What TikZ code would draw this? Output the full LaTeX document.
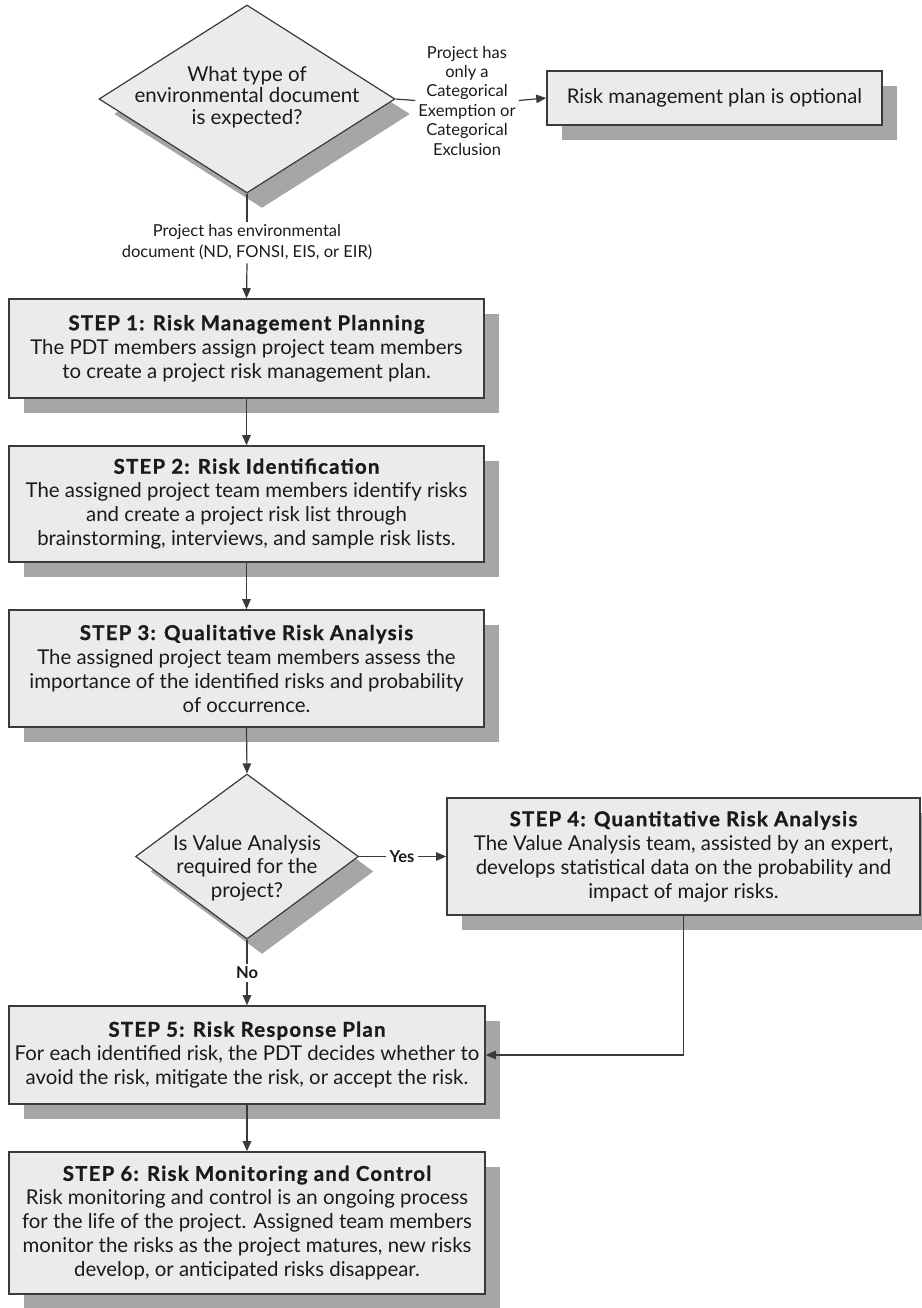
\documentclass[tikz,border=0pt]{standalone}
\usepackage{fontspec}
\setmainfont{Lato}
\usetikzlibrary{shapes.geometric,shadows,arrows.meta}
\definecolor{boxfill}{HTML}{EBEBEB}
\definecolor{shadowgray}{HTML}{A6A6A6}
\definecolor{edge}{HTML}{3A3A3A}
\definecolor{ink}{HTML}{1A1A1A}
% bold step headings, heavier and tracked out a little
\newcommand{\stephead}[1]{{\bfseries\addfontfeature{LetterSpace=6,FakeBold=1}#1}}
\begin{document}
\begin{tikzpicture}[x=1pt,y=-1pt,
  castshadow/.style={general shadow={fill=shadowgray,shadow xshift=15pt,shadow yshift=-15pt}},
  stepbox/.style={draw=edge,line width=1.6pt,fill=boxfill,castshadow,align=center,
    inner sep=0pt,text=ink,font=\fontsize{20.4}{24}\selectfont},
  decision/.style={diamond,draw=edge,line width=1.2pt,fill=boxfill,castshadow,inner sep=0pt},
  qtext/.style={align=center,text=ink,inner sep=0pt},
  lbl/.style={align=center,text=ink,inner sep=3pt,font=\fontsize{16.5}{19.4}\selectfont},
  answer/.style={text=ink,inner sep=3pt,font=\bfseries\fontsize{16.5}{18}\selectfont},
  link/.style={draw=edge,line width=1.2pt},
  arr/.style={link,-{Triangle[length=10pt,width=8.5pt]}},
]
\useasboundingbox (0,0) rectangle (921,1308);

% first decision: kind of environmental document
\node[decision,minimum width=296pt,minimum height=188pt] (d1) at (247,99) {};
\node[qtext,font=\fontsize{20.5}{21.7}\selectfont] (d1t) at (247,97)
  {What type of\\environmental document\\is expected?};
\node[lbl] (lab1) at (467,100.5)
  {Project has\\only a\\Categorical\\Exemption or\\Categorical\\Exclusion};
\node[stepbox,minimum width=335pt,minimum height=54pt,font=\fontsize{20.2}{23}\selectfont] (opt) at (714.5,98)
  {Risk management plan is optional};
\node[lbl,font=\fontsize{16.5}{21}\selectfont] (lab2) at (247,242.5)
  {Project has environmental\\document (ND, FONSI, EIS, or EIR)};

% steps 1 to 3
\node[stepbox,minimum width=475pt,minimum height=99pt] (s1) at (246.5,348.5)
  {\stephead{STEP 1: Risk Management Planning}\\
   The PDT members assign project team members\\
   to create a project risk management plan.};
\node[stepbox,minimum width=475pt,minimum height=116pt] (s2) at (246.5,504)
  {\stephead{STEP 2: Risk Identification}\\
   The assigned project team members identify risks\\
   and create a project risk list through\\
   brainstorming, interviews, and sample risk lists.};
\node[stepbox,minimum width=475pt,minimum height=117pt] (s3) at (246.5,668.5)
  {\stephead{STEP 3: Qualitative Risk Analysis}\\
   The assigned project team members assess the\\
   importance of the identified risks and probability\\
   of occurrence.};

% second decision: value analysis
\node[decision,minimum width=223pt,minimum height=165pt] (d2) at (247,856.5) {};
\node[qtext,font=\fontsize{20.5}{23.5}\selectfont] (d2t) at (247,868)
  {Is Value Analysis\\required for the\\project?};
\node[answer] (yes) at (402,856.5) {Yes};
\node[answer] (no) at (247,973) {No};

\node[stepbox,minimum width=473pt,minimum height=117pt] (s4) at (683.5,856.5)
  {\stephead{STEP 4: Quantitative Risk Analysis}\\
   The Value Analysis team, assisted by an expert,\\
   develops statistical data on the probability and\\
   impact of major risks.};

% steps 5 and 6
\node[stepbox,minimum width=476pt,minimum height=98pt] (s5) at (247,1055)
  {\stephead{STEP 5: Risk Response Plan}\\
   For each identified risk, the PDT decides whether to\\
   avoid the risk, mitigate the risk, or accept the risk.};
\node[stepbox,minimum width=476pt,minimum height=142pt] (s6) at (247,1223)
  {\stephead{STEP 6: Risk Monitoring and Control}\\
   Risk monitoring and control is an ongoing process\\
   for the life of the project. Assigned team members\\
   monitor the risks as the project matures, new risks\\
   develop, or anticipated risks disappear.};

% connectors
\draw[link] (d1.east) -- (lab1.west);
\draw[arr] (lab1.east) -- (opt.west);
\draw[link] (d1.south) -- (lab2.north);
\draw[arr] (lab2.south) -- (s1.north);
\draw[arr] (s1.south) -- (s2.north);
\draw[arr] (s2.south) -- (s3.north);
\draw[arr] (s3.south) -- (d2.north);
\draw[link] (d2.east) -- (yes.west);
\draw[arr] (yes.east) -- (s4.west);
\draw[link] (d2.south) -- (no.north);
\draw[arr] (no.south) -- (s5.north);
\draw[arr] (s4.south) |- (s5.east);
\draw[arr] (s5.south) -- (s6.north);
\end{tikzpicture}
\end{document}
